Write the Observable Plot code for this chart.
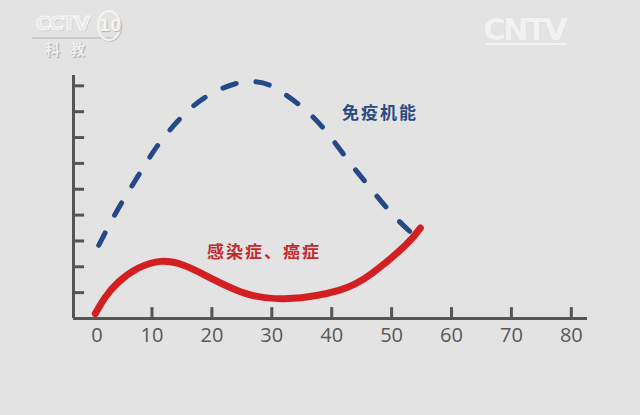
<!DOCTYPE html>
<html>
<head>
<meta charset="utf-8">
<script src="https://cdn.jsdelivr.net/npm/d3@7"></script>
<script src="https://cdn.jsdelivr.net/npm/@observablehq/plot@0.6"></script>
<style>
  html, body { margin: 0; padding: 0; background: #e3e3e3; }
  #wrap { position: relative; width: 640px; height: 415px; overflow: hidden; background: #e3e3e3; }
  .logo { position: absolute; font-family: "DejaVu Sans", sans-serif; }
  #cctv { left: 36px; top: 11px; font-size: 20px; font-weight: bold; letter-spacing: -1.5px; color: #e6e6e6; -webkit-text-stroke: 1.2px #f7f7f7; text-shadow: 1px 1px 1px #bdbdbd; }
  #ten { left: 97px; top: 10px; font-size: 16px; font-weight: bold; width: 20px; height: 27px; border: 2px solid #f3f3f3; border-radius: 12px / 15px; text-align: center; line-height: 27px; color: #f3f3f3; text-shadow: 1px 1px 1px #b5b5b5; box-shadow: 1px 1px 1px #c4c4c4; }
  #kejiao { left: 45px; top: 38px; font-size: 15px; font-family: "Noto Sans CJK SC", sans-serif; font-weight: bold; letter-spacing: 10px; color: #eeeeee; text-shadow: 1px 1px 1px #a9a9a9; }
  #cntv { left: 483px; top: 11px; font-size: 31px; font-weight: bold; letter-spacing: -3px; color: #f2f2f2; text-shadow: 0 0 1px #cfcfcf; }
  #cntvline { position: absolute; left: 485px; top: 43px; width: 82px; height: 2px; background: #f2f2f2; border-radius: 1px; }
  #cctvline { position: absolute; left: 32px; top: 37px; width: 84px; height: 2px; background: #cbcbcb; }
</style>
</head>
<body>
<div id="wrap">
  <div id="chart"></div>
  <div id="cctvline"></div>
  <div class="logo" id="cctv">CCTV</div>
  <div class="logo" id="ten">10</div>
  <div class="logo" id="kejiao">科教</div>
  <div class="logo" id="cntv">CNTV</div>
  <div id="cntvline"></div>
</div>
<script>
// X ticks (age) and Y tick positions
const xTicks = [0, 10, 20, 30, 40, 50, 60, 70, 80];
const yTicks = [1, 2, 3, 4, 5, 6, 7, 8, 9];

// 免疫机能 (immune function), dashed blue
const immuneAge   = [1.1, 4.2, 7.4, 10.7, 14.4, 18.9, 24.2, 27.3, 30.1, 35.1, 39.2, 42.8, 46.5, 50.3, 54.5];
const immuneValue = [2.83, 4.18, 5.41, 6.61, 7.66, 8.56, 9.10, 9.16, 8.97, 8.17, 7.20, 6.10, 5.03, 3.99, 3.06];

// 感染症、癌症 (infections, cancer), solid red
const diseaseAge   = [0.55, 4.4, 11.5, 18.9, 25.6, 32.8, 41.2, 46.7, 52.3, 54.8];
const diseaseValue = [0.19, 1.41, 2.21, 1.67, 0.97, 0.77, 1.09, 1.74, 2.83, 3.50];

const labels = [
  {text: "免疫机能", x: 41.7, y: 7.93, color: "#2a4a82"},
  {text: "感染症、癌症", x: 19.2, y: 2.57, color: "#c42a2c"}
];

const immune = immuneAge.map((a, i) => ({age: a, v: immuneValue[i]}));
const disease = diseaseAge.map((a, i) => ({age: a, v: diseaseValue[i]}));

const xMin = -3.1, xMax = 82.7, yMax = 9.4;
const axisColor = "#555555";

const chart = Plot.plot({
  width: 640,
  height: 415,
  marginLeft: 73,
  marginRight: 53,
  marginTop: 75,
  marginBottom: 97,
  style: {background: "#e3e3e3", overflow: "visible"},
  x: {domain: [xMin, xMax], axis: null},
  y: {domain: [0, yMax], axis: null},
  marks: [
    // y axis line and ticks
    Plot.ruleX([xMin], {y1: 0, y2: yMax, stroke: axisColor, strokeWidth: 3}),
    Plot.ruleY(yTicks, {y: d => d, x1: xMin, x2: xMin + 1.85, stroke: axisColor, strokeWidth: 3}),
    // x axis line and ticks
    Plot.ruleY([0], {x1: xMin, x2: xMax, stroke: axisColor, strokeWidth: 3}),
    Plot.ruleX(xTicks.filter(d => d > 0), {x: d => d, y1: 0, y2: 0.42, stroke: axisColor, strokeWidth: 3}),
    // x tick labels
    Plot.text(xTicks.filter(d => d > 0), {x: d => d, y: 0, dy: 17, text: d => String(d), fontSize: 20, fill: "#585858", fontFamily: "Open Sans", style: "letter-spacing:3px"}),
    Plot.text([0], {x: d => d, y: 0, dy: 17, dx: 5, text: d => String(d), fontSize: 20, fill: "#585858", fontFamily: "Open Sans"}),
    // curves
    Plot.line(immune, {x: "age", y: "v", curve: "natural", stroke: "#234a86", strokeWidth: 5, strokeDasharray: "14,20", strokeLinecap: "round"}),
    Plot.line(disease, {x: "age", y: "v", curve: "natural", stroke: "#d41f22", strokeWidth: 7, strokeLinecap: "round"}),
    // labels
    Plot.text(labels, {x: "x", y: "y", text: "text", fill: d => d.color, textAnchor: "start", fontSize: 17, fontWeight: "bold", fontFamily: "Noto Sans CJK SC"})
  ]
});
chart.querySelectorAll("text").forEach(t => {
  if (/[\u4e00-\u9fff]/.test(t.textContent)) t.setAttribute("letter-spacing", "2");
});
document.getElementById("chart").appendChild(chart);
</script>
</body>
</html>
